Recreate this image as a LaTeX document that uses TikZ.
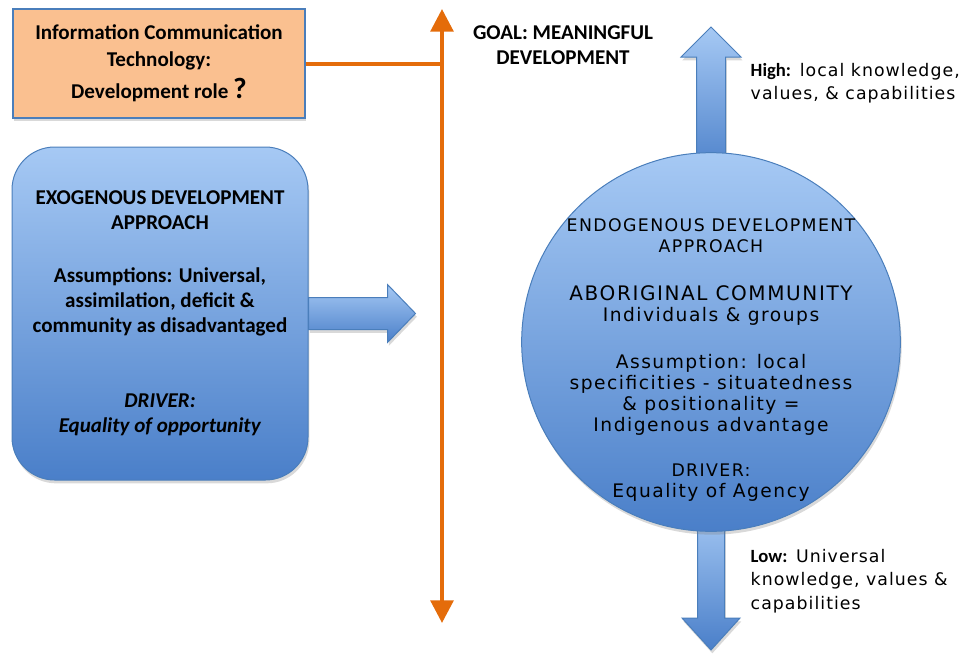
\documentclass[tikz,border=0pt]{standalone}
\usepackage{fontspec}
\setmainfont{Carlito}
\newfontfamily\handfont[LetterSpace=8]{DejaVu Sans}
\newfontfamily\sidefont[LetterSpace=6]{DejaVu Sans}
\usetikzlibrary{positioning,calc,shadows,arrows.meta}

\definecolor{ictorange}{HTML}{FAC090}
\definecolor{goalorange}{HTML}{E46C0A}
\definecolor{edgeblue}{HTML}{4A7EBB}
\definecolor{toplight}{HTML}{A6C9F4}
\definecolor{botdark}{HTML}{4A7FC9}

\begin{document}
\begin{tikzpicture}[x=0.75pt,y=-0.75pt,
        every node/.style={align=center,font=\bfseries\fontsize{15.8}{18.75}\selectfont},
        bluefill/.style={top color=toplight,bottom color=botdark,draw=edgeblue,line width=0.75pt},
        hand/.style={font=\handfont\fontsize{14}{15.75}\selectfont},
        side/.style={font=\sidefont\fontsize{13}{16}\selectfont,anchor=west,align=left},
        soft/.style={drop shadow={shadow xshift=1pt,shadow yshift=-2.5pt,opacity=0.3}}]
   \useasboundingbox (0,0) rectangle (966,653);

   % orange goal axis
   \coordinate (T) at (442,9);
   \coordinate (U) at (442,623);
   \draw[goalorange,line width=3pt,{Triangle[length=17pt,width=17pt]}-{Triangle[length=17pt,width=17pt]}] (U) -- (T);

   \node (ICT) [draw=edgeblue,line width=1.5pt,fill=ictorange,minimum width=219pt,minimum height=81.75pt,soft] at (159,63.5)
      {Information Communication\\[1.5pt]Technology:\\[5pt]Development role {\fontsize{22}{22}\selectfont ?}};
   \draw[goalorange,line width=3pt] (ICT.east) -- (ICT.east -| T);

   \node (GOAL) at (563,45.5) {GOAL: MEANINGFUL\\DEVELOPMENT};

   % exogenous side
   \node (EXO) [bluefill,rounded corners=32pt,minimum width=222pt,minimum height=249.75pt,soft] at (160,313.5)
      {EXOGENOUS DEVELOPMENT\\APPROACH\\[21pt]Assumptions: Universal,\\assimilation, deficit \&\\community as disadvantaged\\[37.5pt]\textit{DRIVER:}\\\textit{Equality of opportunity}};
   \draw[bluefill,soft] (EXO.east) ++(0,-16) -- ($(EXO.east)+(79,-16)$) -- ($(EXO.east)+(79,-29)$) -- ($(EXO.east)+(107,0)$)
      -- ($(EXO.east)+(79,29)$) -- ($(EXO.east)+(79,16)$) -- ($(EXO.east)+(0,16)$) -- cycle;

   % endogenous side
   \coordinate (C) at (711,342);
   \draw[bluefill,soft] ($(C)+(-14.5,-165)$) -- ($(C)+(-14.5,-285)$) -- ($(C)+(-30,-285)$) -- ($(C)+(0,-315)$)
      -- ($(C)+(30,-285)$) -- ($(C)+(14.5,-285)$) -- ($(C)+(14.5,-165)$) -- cycle;
   \draw[bluefill,soft] ($(C)+(-13.5,165)$) -- ($(C)+(-13.5,276)$) -- ($(C)+(-29,276)$) -- ($(C)+(0,308)$)
      -- ($(C)+(29,276)$) -- ($(C)+(13.5,276)$) -- ($(C)+(13.5,165)$) -- cycle;
   \node (ENDO) [bluefill,circle,minimum size=284pt,inner sep=0pt,soft] at (C) {};
   \node (ENDOTXT) [hand] at ($(C)+(0,18)$)
      {{\fontsize{13}{15.75}\selectfont ENDOGENOUS DEVELOPMENT}\\{\fontsize{13}{15.75}\selectfont APPROACH}\\[20pt]{\fontsize{15}{15.75}\selectfont ABORIGINAL COMMUNITY}\\Individuals \& groups\\[19.5pt]Assumption: local\\specificities - situatedness\\\& positionality =\\Indigenous advantage\\[18pt]{\fontsize{13}{15.75}\selectfont DRIVER:}\\Equality of Agency};

   \node (HIGH) [side] at (746,83.5)
      {{\rmfamily\bfseries\fontsize{14}{16}\selectfont High:} local knowledge,\\[1.5pt]values, \& capabilities};
   \node (LOW) [side] at (746,581)
      {{\rmfamily\bfseries\fontsize{14}{16}\selectfont Low:} Universal\\[1.5pt]knowledge, values \&\\[1.5pt]capabilities};

\end{tikzpicture}
\end{document}
